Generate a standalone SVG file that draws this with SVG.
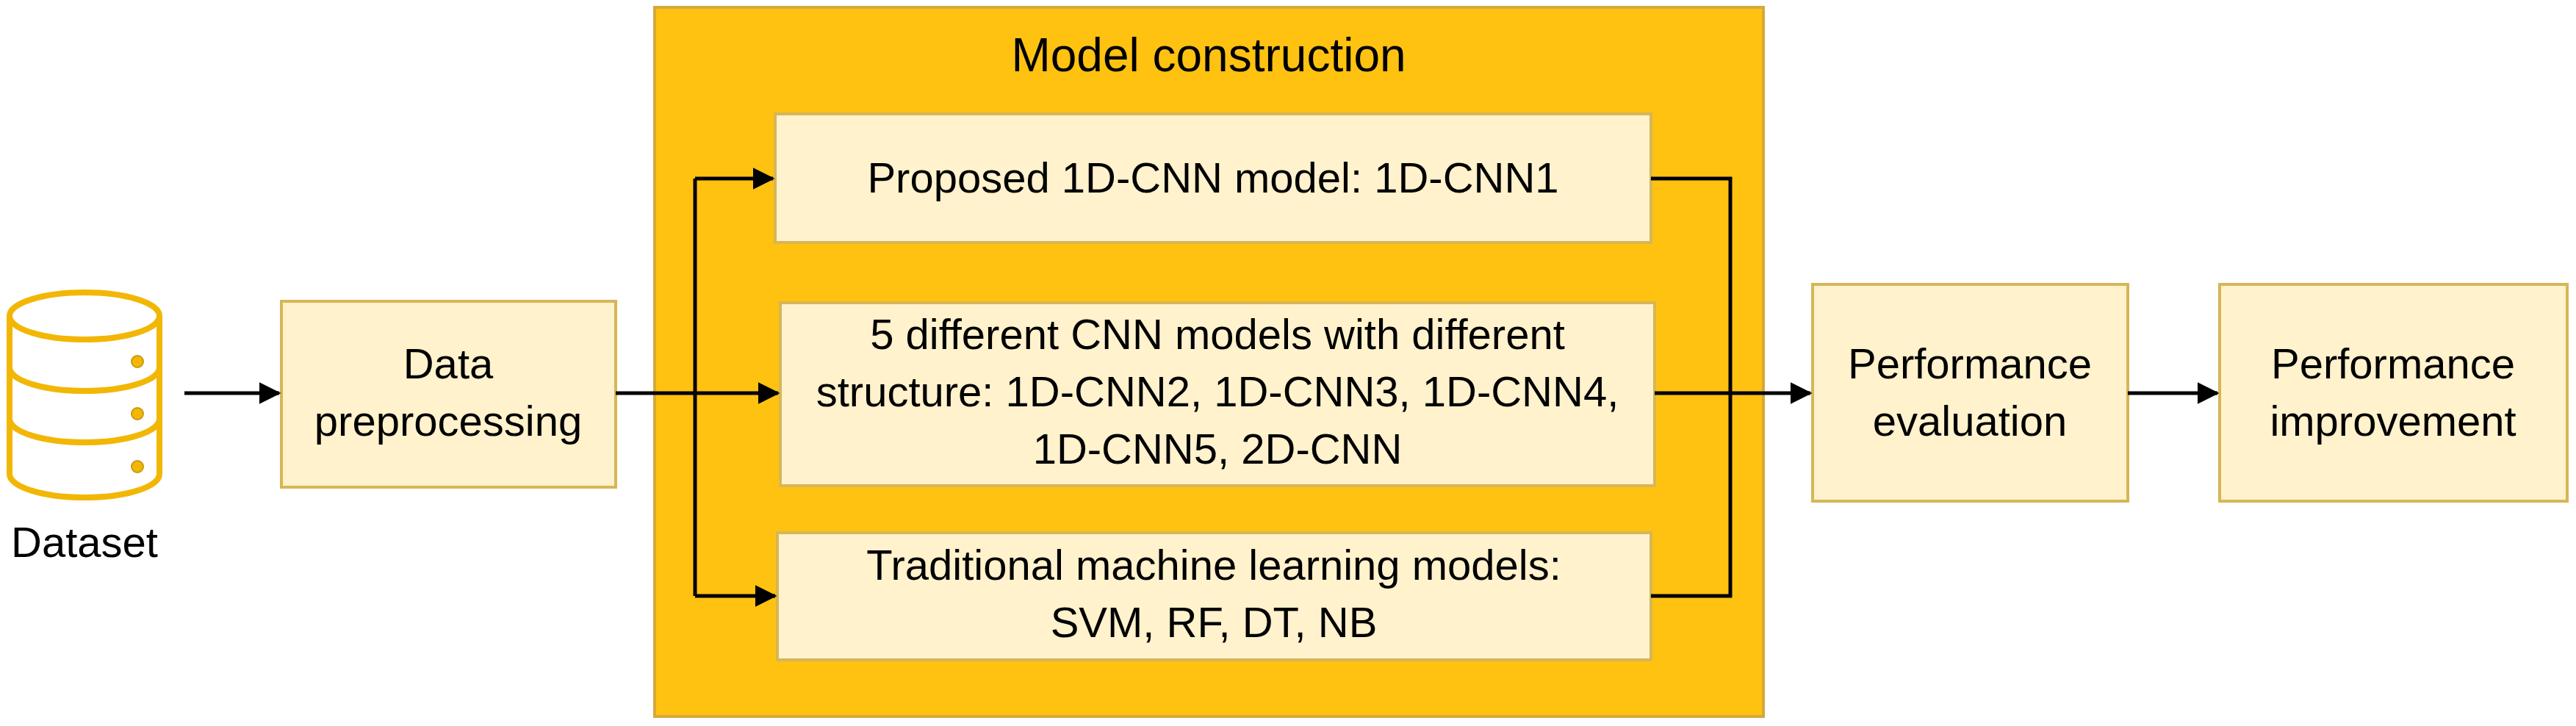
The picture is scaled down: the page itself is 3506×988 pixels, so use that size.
<svg xmlns="http://www.w3.org/2000/svg" width="3506" height="988" viewBox="0 0 3506 988">
<style>
.box{fill:#FFF2CC;stroke:#D6B656;stroke-width:4}
.outer{fill:#FFC211;stroke:#D6A83A;stroke-width:4}
.t{font-family:"Liberation Sans",Arial,sans-serif;font-size:58px;fill:#000;text-anchor:middle}
.c{fill:none;stroke:#000;stroke-width:5}
.db{fill:#fff;stroke:#F2B705;stroke-width:8}
.dot{fill:#F2B705;stroke:#C99A10;stroke-width:2}
</style>
<defs>
<marker id="ah" markerWidth="6" markerHeight="6" refX="5.5" refY="3" orient="auto" markerUnits="strokeWidth">
<path d="M0,0 L6,3 L0,6 Z" fill="#000"/>
</marker>
</defs>
<rect width="3506" height="988" fill="#fff"/>
<g id="dataset">
<path class="db" d="M13,430 L13,645 A102,32 0 0 0 217,645 L217,430"/>
<path class="db" d="M13,500 A102,32 0 0 0 217,500 M13,570 A102,32 0 0 0 217,570"/>
<ellipse class="db" cx="115" cy="430" rx="102" ry="32"/>
<circle class="dot" cx="187" cy="492" r="8"/>
<circle class="dot" cx="187" cy="563" r="8"/>
<circle class="dot" cx="187" cy="635" r="8"/>
<text class="t" x="115" y="758">Dataset</text>
</g>
<g id="prep">
<rect class="box" x="383" y="410" width="455" height="253"/>
<text class="t" x="610" y="515">Data</text>
<text class="t" x="610" y="593">preprocessing</text>
</g>
<g id="model-construction">
<rect class="outer" x="891" y="10" width="1509" height="965"/>
<text class="t" x="1645" y="97" style="font-size:64px">Model construction</text>
</g>
<g id="cnn1">
<rect class="box" x="1055" y="155" width="1192" height="175"/>
<text class="t" x="1651" y="262">Proposed 1D-CNN model: 1D-CNN1</text>
</g>
<g id="cnn5">
<rect class="box" x="1062" y="412" width="1190" height="249"/>
<text class="t" x="1657" y="475">5 different CNN models with different</text>
<text class="t" x="1657" y="553">structure: 1D-CNN2, 1D-CNN3, 1D-CNN4,</text>
<text class="t" x="1657" y="631">1D-CNN5, 2D-CNN</text>
</g>
<g id="ml">
<rect class="box" x="1058" y="725" width="1189" height="173"/>
<text class="t" x="1652" y="789">Traditional machine learning models:</text>
<text class="t" x="1652" y="867">SVM, RF, DT, NB</text>
</g>
<g id="eval">
<rect class="box" x="2467" y="387" width="429" height="295"/>
<text class="t" x="2681" y="515">Performance</text>
<text class="t" x="2681" y="593">evaluation</text>
</g>
<g id="improve">
<rect class="box" x="3021" y="387" width="473" height="295"/>
<text class="t" x="3257" y="515">Performance</text>
<text class="t" x="3257" y="593">improvement</text>
</g>
<g id="connectors">
<path class="c" d="M251,535 H380" marker-end="url(#ah)"/>
<path class="c" d="M838,535 H946"/>
<path class="c" d="M946,535 H1059" marker-end="url(#ah)"/>
<path class="c" d="M946,243 V811"/>
<path class="c" d="M946,243 H1052" marker-end="url(#ah)"/>
<path class="c" d="M946,811 H1055" marker-end="url(#ah)"/>
<path class="c" d="M2247,243 H2355 V811 H2247"/>
<path class="c" d="M2252,535 H2464" marker-end="url(#ah)"/>
<path class="c" d="M2896,535 H3018" marker-end="url(#ah)"/>
</g>
</svg>
